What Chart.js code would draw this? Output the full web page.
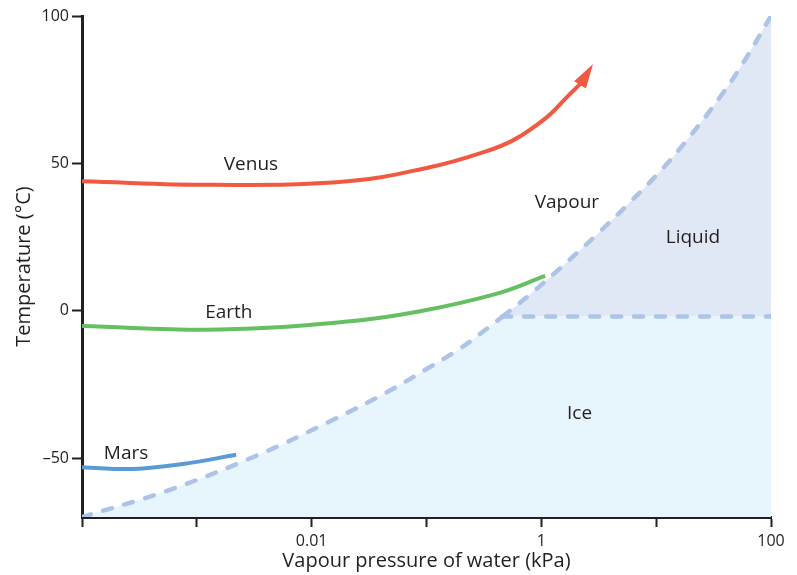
<!DOCTYPE html>
<html>
<head>
<meta charset="utf-8">
<script src="https://cdn.jsdelivr.net/npm/chart.js@4/dist/chart.umd.min.js"></script>
<style>
  html, body { margin: 0; padding: 0; background: #fff; }
</style>
</head>
<body>
<canvas id="myChart" width="797" height="575"></canvas>
<script>
// planet tracks: vapour pressure (kPa) vs temperature (°C)
const venusP = [0.0001, 0.00138, 0.0207, 0.107, 0.292, 0.566, 1.12, 1.67, 2.22];
const venusT = [43.9, 42.7, 43.9, 48.7, 53.4, 57.8, 65.7, 72.5, 77.2];
const venusTip = [2.82, 83.7];

const earthP = [0.0001, 0.00159, 0.0216, 0.0877, 0.411, 1.08];
const earthT = [-5.2, -6.4, -3.6, -0.2, 5.8, 11.8];

const marsP = [0.0001, 0.00028, 0.00076, 0.0022];
const marsT = [-53.1, -53.7, -52.0, -48.9];

// phase boundaries of water
const iceP = [0.0001, 0.00055, 0.0033, 0.0145, 0.045, 0.101, 0.195, 0.292, 0.46];
const iceT = [-70, -61.1, -49.2, -37.5, -27.7, -19.7, -12.9, -7.9, -2];
const meltP = [0.455, 100];
const meltT = [-2, -2];
const liquidP = [0.46, 0.796, 1.456, 3.05, 5.92, 11.5, 19.7, 36.0, 57.0, 100];
const liquidT = [-2, 5.5, 14.4, 25.9, 36.8, 48.4, 59.2, 72.5, 84.0, 100];

// axis ticks
const xTicks = [0.0001, 0.001, 0.01, 0.1, 1, 10, 100];
const xLabels = ['', '', '0.01', '', '1', '', '100'];
const yTicks = [-50, 0, 50, 100];
const yLabels = ['\u201350', '0', '50', '100'];

// region / track labels
const labelText = ['Venus', 'Earth', 'Mars', 'Vapour', 'Liquid', 'Ice'];
const labelP = [0.00296, 0.0019, 0.000242, 1.67, 20.9, 2.15];
const labelT = [49.7, -0.5, -48.5, 36.6, 24.7, -35];

const ink = '#231f20';
const dashBlue = '#aec4e7';
const fontFamily = "'Open Sans', 'Lato', sans-serif";

function pts(xs, ys) {
  return xs.map((x, i) => ({x: x, y: ys[i]}));
}

function track(label, xs, ys, color) {
  return {
    label: label,
    data: pts(xs, ys),
    showLine: true,
    borderColor: color,
    borderWidth: 4,
    pointRadius: 0,
    tension: 0.4,
    order: 0
  };
}

function boundary(label, xs, ys, fillColor, fill) {
  return {
    label: label,
    data: pts(xs, ys),
    showLine: true,
    borderColor: dashBlue,
    backgroundColor: fillColor,
    fill: fill,
    borderWidth: 4.5,
    borderDash: [9, 13],
    borderCapStyle: 'round',
    pointRadius: 0,
    tension: 0.4,
    order: 1
  };
}

const arrowPlugin = {
  id: 'arrow',
  afterDatasetsDraw(chart) {
    const meta = chart.getDatasetMeta(0);
    const last = meta.data[meta.data.length - 1];
    const xs = chart.scales.x, ys = chart.scales.y;
    const tx = xs.getPixelForValue(venusTip[0]);
    const ty = ys.getPixelForValue(venusTip[1]);
    const dx = tx - last.x, dy = ty - last.y;
    const len = Math.sqrt(dx * dx + dy * dy);
    const nx = -dy / len, ny = dx / len;
    const bx = last.x - dx / len * 2, by = last.y - dy / len * 2;
    const ctx = chart.ctx;
    ctx.save();
    ctx.fillStyle = '#f15a40';
    ctx.beginPath();
    ctx.moveTo(tx, ty);
    ctx.lineTo(bx + nx * 7, by + ny * 7);
    ctx.lineTo(bx - nx * 7, by - ny * 7);
    ctx.closePath();
    ctx.fill();
    ctx.restore();
  }
};

const labelPlugin = {
  id: 'labels',
  afterDraw(chart) {
    const ctx = chart.ctx;
    ctx.save();
    ctx.fillStyle = ink;
    ctx.font = '19px ' + fontFamily;
    ctx.textAlign = 'center';
    ctx.textBaseline = 'middle';
    labelText.forEach((t, i) => {
      ctx.fillText(t, chart.scales.x.getPixelForValue(labelP[i]), chart.scales.y.getPixelForValue(labelT[i]));
    });
    ctx.restore();
  }
};

const chart = new Chart(document.getElementById('myChart'), {
  type: 'scatter',
  data: {
    datasets: [
      track('Venus', venusP, venusT, '#f15a40'),
      track('Earth', earthP, earthT, '#66bf63'),
      track('Mars', marsP, marsT, '#5b9bd5'),
      boundary('Ice', iceP, iceT, '#e7f5fd', 'start'),
      boundary('Melting', meltP, meltT, '#e7f5fd', 'start'),
      boundary('Liquid', liquidP, liquidT, '#e1e8f5', {value: -2})
    ]
  },
  options: {
    responsive: false,
    animation: false,
    layout: { padding: { top: 16, right: 26, left: 0, bottom: 0 } },
    plugins: {
      legend: { display: false },
      tooltip: { enabled: false },
      filler: { drawTime: 'beforeDatasetsDraw' }
    },
    scales: {
      x: {
        type: 'logarithmic',
        min: 0.0001,
        max: 100,
        afterBuildTicks: (scale) => { scale.ticks = xTicks.map(v => ({value: v})); },
        afterFit: (scale) => { scale.height = 58; },
        ticks: {
          autoSkip: false,
          maxRotation: 0,
          padding: 5,
          color: ink,
          font: { family: fontFamily, size: 16 },
          callback: (v) => xLabels[xTicks.indexOf(v)] ?? ''
        },
        grid: { drawOnChartArea: false, drawTicks: true, tickLength: 10, tickWidth: 2, tickColor: ink },
        border: { display: true, width: 3, color: ink },
        title: {
          display: true,
          text: 'Vapour pressure of water (kPa)',
          color: ink,
          font: { family: fontFamily, size: 20 },
          padding: { top: 0, bottom: 2 }
        }
      },
      y: {
        min: -70,
        max: 100,
        afterBuildTicks: (scale) => { scale.ticks = yTicks.map(v => ({value: v})); },
        afterFit: (scale) => { scale.width = 82; },
        ticks: {
          padding: 3,
          color: ink,
          font: { family: fontFamily, size: 16 },
          callback: (v) => yLabels[yTicks.indexOf(v)] ?? ''
        },
        grid: { drawOnChartArea: false, drawTicks: true, tickLength: 10, tickWidth: 2, tickColor: ink },
        border: { display: true, width: 3, color: ink },
        title: {
          display: true,
          text: 'Temperature (\u00b0C)',
          color: ink,
          font: { family: fontFamily, size: 20 },
          padding: { top: 12, bottom: 0 }
        }
      }
    }
  },
  plugins: [arrowPlugin, labelPlugin]
});
</script>
</body>
</html>
